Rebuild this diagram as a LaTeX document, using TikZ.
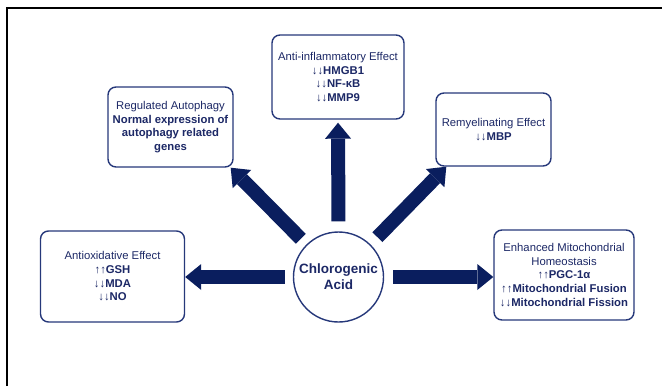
\documentclass[tikz,border=0pt]{standalone}
\usepackage{fontspec}
\setmainfont{Liberation Sans}
\usetikzlibrary{arrows.meta}
\definecolor{navy}{RGB}{10,30,94}
\definecolor{boxline}{RGB}{38,56,122}
\definecolor{txt}{RGB}{28,40,102}
\begin{document}
\begin{tikzpicture}[x=1pt,y=-1pt,
  fx/.style={draw=boxline, line width=1.4pt, rounded corners=8pt, fill=white,
    align=center, inner sep=0pt, text=txt,
    font=\fontsize{11.3}{13.7}\selectfont},
  hub/.style={draw=boxline, line width=1.4pt, circle, minimum size=90pt,
    inner sep=0pt, fill=white, align=center, text=txt,
    font=\bfseries\fontsize{13.5}{15.7}\selectfont},
  bigarrow/.style={draw=navy, line width=14pt,
    -{Triangle[length=16pt,width=26pt,line width=0pt]}},
  frame/.style={draw=black, line width=2pt}
]
\useasboundingbox (0,0) rectangle (662,386);
\draw[frame] (7,386) -- (7,7.5) -- (662,7.5);

\node[hub] (ca) at (338.5,277) {Chlorogenic\\Acid};

\node[fx, minimum width=132pt, minimum height=84pt] (anti) at (338,77)
  {Anti-inflammatory Effect\\\textbf{↓↓HMGB1}\\\textbf{↓↓NF-κB}\\\textbf{↓↓MMP9}};
\node[fx, minimum width=125pt, minimum height=80pt] (auto) at (170.5,127)
  {Regulated Autophagy\\\textbf{Normal expression of}\\\textbf{autophagy related}\\\textbf{genes}};
\node[fx, minimum width=115pt, minimum height=73pt] (remy) at (493.5,129.5)
  {Remyelinating Effect\\\textbf{↓↓MBP}};
\node[fx, minimum width=144pt, minimum height=91pt] (antiox) at (112.5,276.5)
  {Antioxidative Effect\\\textbf{↑↑GSH}\\\textbf{↓↓MDA}\\\textbf{↓↓NO}};
\node[fx, minimum width=140pt, minimum height=90pt] (mito) at (564,275)
  {Enhanced Mitochondrial\\Homeostasis\\\textbf{↑↑PGC-1α}\\\textbf{↑↑Mitochondrial Fusion}\\\textbf{↓↓Mitochondrial Fission}};

\draw[bigarrow, shorten <=10pt, shorten >=3pt] (ca.north) -- (anti.south);
\draw[bigarrow, shorten <=8pt] (ca.west) -- (ca.west -| antiox.east);
\draw[bigarrow, shorten <=9pt] (ca.east) -- (ca.east -| mito.west);
\draw[bigarrow, shorten <=8pt] (ca) -- ([xshift=-3pt]auto.south east);
\draw[bigarrow, shorten <=10pt] (ca) -- ([xshift=11pt]remy.south west);
\end{tikzpicture}
\end{document}
